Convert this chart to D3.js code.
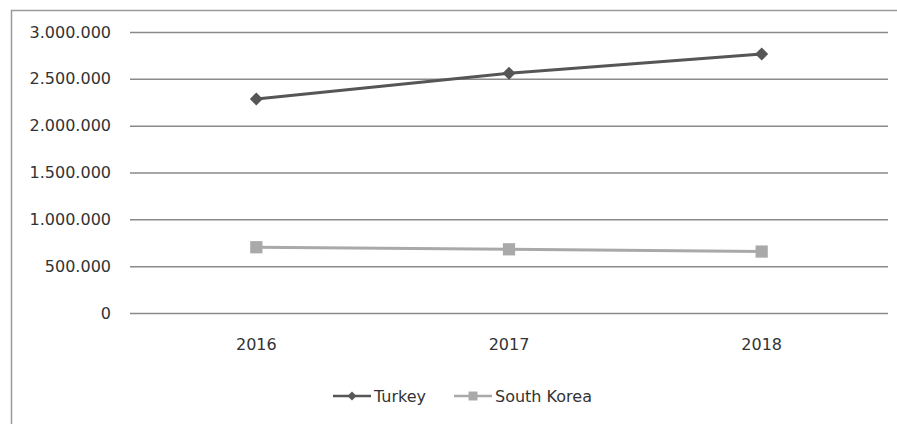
<!DOCTYPE html>
<html>
<head>
<meta charset="utf-8">
<script src="https://cdn.jsdelivr.net/npm/d3@7"></script>
<style>
  body { margin: 0; background: #fff; overflow: hidden; }
  text { font-family: "DejaVu Sans", sans-serif; fill: #333; }
</style>
</head>
<body>
<div id="chart"></div>
<script>
// data
const years = ['2016', '2017', '2018'];
const turkey = [2285000, 2560000, 2765000];
const southKorea = [702000, 680000, 656000];
const yTicks = [0, 500000, 1000000, 1500000, 2000000, 2500000, 3000000];
const seriesNames = ['Turkey', 'South Korea'];

const W = 897, H = 424;
const margin = {t: 32, r: 9, b: 111, l: 130};
const innerWidth = W - margin.l - margin.r;
const innerHeight = H - margin.t - margin.b;

const series = [
	{name: seriesNames[0], values: turkey, color: '#565656', symbol: 'diamond'},
	{name: seriesNames[1], values: southKorea, color: '#a9a9a9', symbol: 'square'}
];

const scaleX = d3.scaleBand().domain(years).range([0, innerWidth]);
const scaleY = d3.scaleLinear().domain([0, 3000000]).range([innerHeight, 0]);

const locale = d3.formatLocale({decimal: ',', thousands: '.', grouping: [3], currency: ['', '']});
const fmt = locale.format(',d');

const svg = d3.select('#chart')
	.append('svg')
	.attr('width', W)
	.attr('height', H)
	.style('display', 'block');

// outer frame (only top and left edges are visible in the window)
svg.append('path')
	.attr('d', `M11.5,${H} V10.5 H${W}`)
	.style('fill', 'none')
	.style('stroke', '#9a9a9a')
	.style('stroke-width', 1.5);

const plot = svg.append('g')
	.attr('transform', `translate(${margin.l}, ${margin.t})`);

const axisY = d3.axisLeft(scaleY)
	.tickValues(yTicks)
	.tickSize(-innerWidth)
	.tickPadding(19)
	.tickFormat(fmt);

const gy = plot.append('g').attr('class', 'axis axis-y').call(axisY);
gy.select('.domain').remove();
gy.selectAll('line').style('stroke', '#8a8a8a').style('stroke-width', 1.5);
gy.selectAll('text').style('font-size', '16px').attr('fill', '#333');

const axisX = d3.axisBottom(scaleX).tickSize(0).tickPadding(26);
const gx = plot.append('g')
	.attr('class', 'axis axis-x')
	.attr('transform', `translate(0, ${innerHeight})`)
	.call(axisX);
gx.select('.domain').remove();
gx.selectAll('text').style('font-size', '16px').attr('fill', '#333');

const cx = d => scaleX(d) + scaleX.bandwidth() / 2;

const line = d3.line()
	.x((d, i) => cx(years[i]))
	.y(d => scaleY(d));

// diamonds are squares turned by 45 degrees
const marker = size => d3.symbol(d3.symbolSquare, size)();
const turn = s => s.symbol === 'diamond' ? ' rotate(45)' : '';

series.forEach(s => {
	plot.append('path')
		.datum(s.values)
		.attr('d', line)
		.style('fill', 'none')
		.style('stroke', s.color)
		.style('stroke-width', 3);

	plot.selectAll(null)
		.data(s.values)
		.join('path')
		.attr('d', marker(s.symbol === 'diamond' ? 85 : 150))
		.attr('transform', (d, i) => `translate(${cx(years[i])}, ${scaleY(d)})` + turn(s))
		.style('fill', s.color);
});

// legend
const legend = svg.append('g').attr('transform', 'translate(333, 396)');
const legendX = [0, 121];
series.forEach((s, i) => {
	const g = legend.append('g').attr('transform', `translate(${legendX[i]}, 0)`);
	g.append('line')
		.attr('x1', 0).attr('x2', 38)
		.style('stroke', s.color)
		.style('stroke-width', 2.5);
	g.append('path')
		.attr('d', marker(s.symbol === 'diamond' ? 40 : 80))
		.attr('transform', 'translate(19, 0)' + turn(s))
		.style('fill', s.color);
	g.append('text')
		.attr('x', 41).attr('y', 0)
		.attr('dy', '0.35em')
		.style('font-size', '16px')
		.text(s.name);
});
</script>
</body>
</html>
